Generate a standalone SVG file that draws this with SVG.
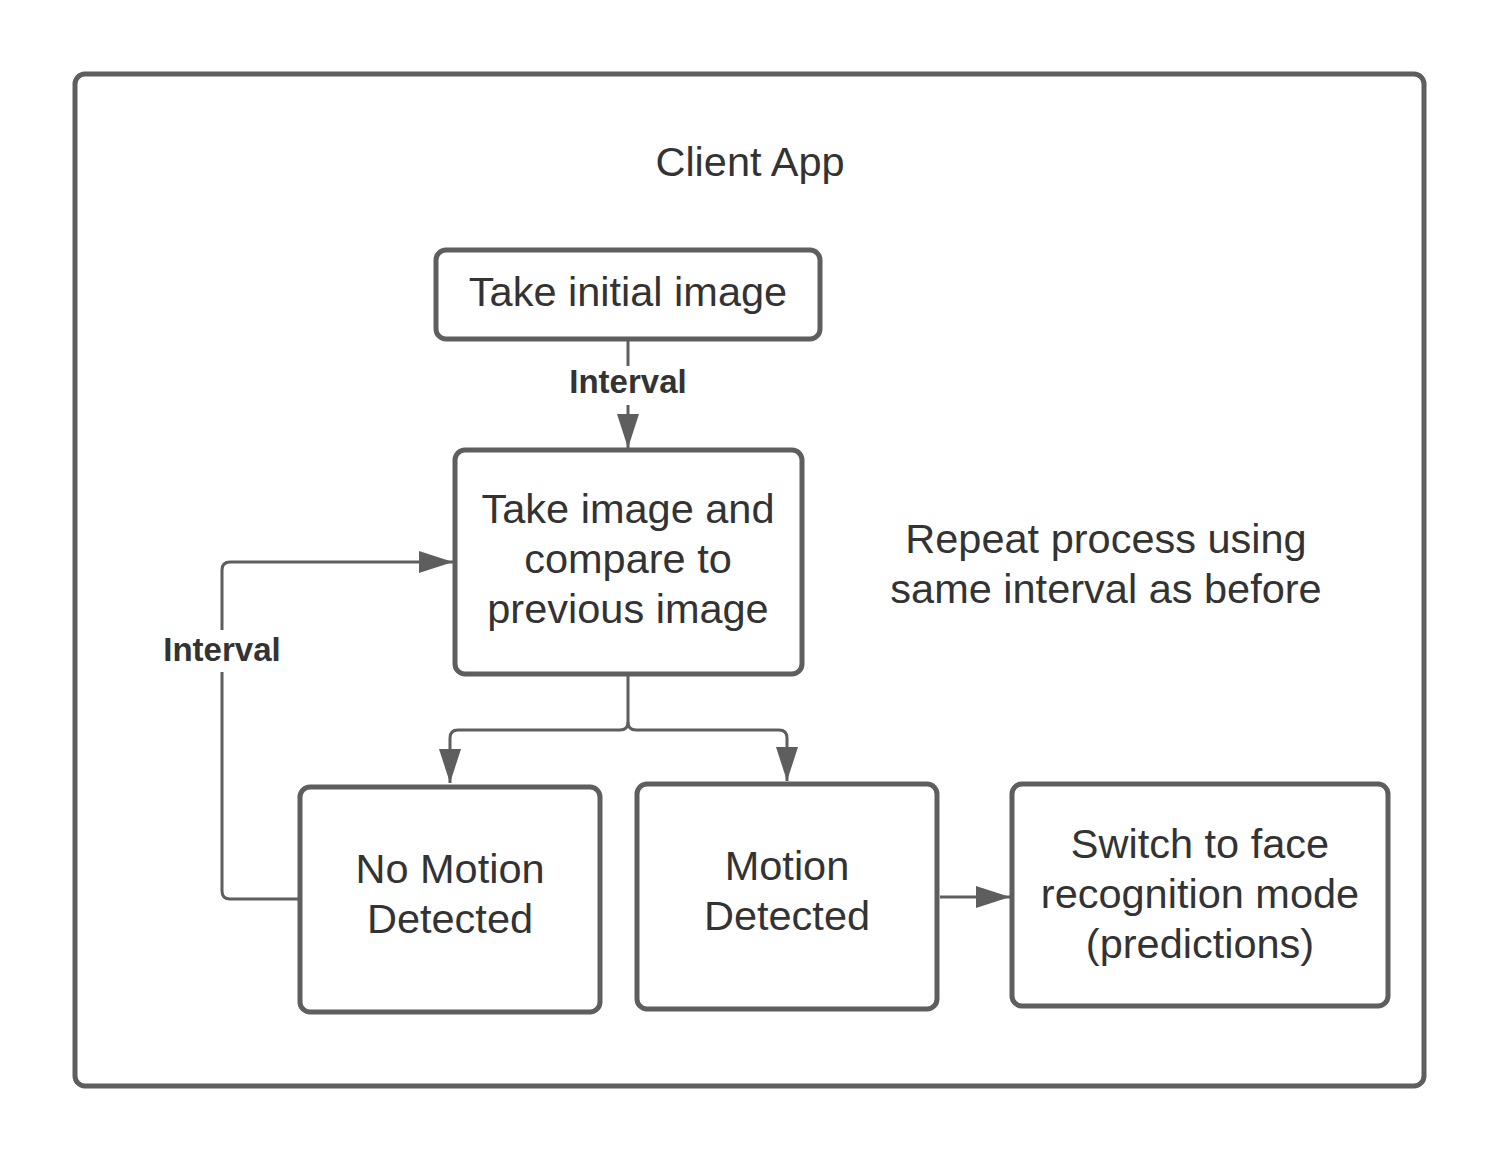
<svg xmlns="http://www.w3.org/2000/svg" width="1500" height="1163" viewBox="0 0 1500 1163">
<defs>
<style>
.box{fill:#fff;stroke:#5e5e5e;stroke-width:5}
.t{font-family:"Liberation Sans",Arial,sans-serif;font-size:41.5px;fill:#333;text-anchor:middle}
.lbl{font-family:"Liberation Sans",Arial,sans-serif;font-size:33px;font-weight:bold;fill:#333;text-anchor:middle}
.c{fill:none;stroke:#5e5e5e;stroke-width:3}
</style>
<marker id="a" viewBox="0 0 34 22" refX="34" refY="11" markerWidth="34" markerHeight="22" orient="auto" markerUnits="userSpaceOnUse">
<path d="M0,0 L34,11 L0,22 Z" fill="#5e5e5e"/>
</marker>
</defs>
<rect width="1500" height="1163" fill="#fff"/>
<g id="container">
<rect x="75" y="74" width="1349" height="1012" rx="10" class="box"/>
<text x="750" y="176" class="t">Client App</text>
</g>
<g id="connectors">
<path d="M628,341 V366" class="c"/>
<path d="M628,405 V448" class="c" marker-end="url(#a)"/>
<text x="628" y="393" class="lbl">Interval</text>
<path d="M298,899 H230 Q222,899 222,891 V570 Q222,562 230,562 H453" class="c" marker-end="url(#a)"/>
<rect x="150" y="630" width="140" height="42" fill="#fff"/>
<text x="222" y="661" class="lbl">Interval</text>
<path d="M628,676 V722 Q628,730 620,730 H458 Q450,730 450,738 V783" class="c" marker-end="url(#a)"/>
<path d="M628,722 Q628,730 636,730 H779 Q787,730 787,738 V781" class="c" marker-end="url(#a)"/>
<path d="M940,897 H1010" class="c" marker-end="url(#a)"/>
</g>
<g id="n1">
<rect x="436" y="250" width="384" height="89" rx="10" class="box"/>
<text x="628" y="306" class="t">Take initial image</text>
</g>
<g id="n2">
<rect x="455" y="450" width="347" height="224" rx="10" class="box"/>
<text x="628" y="523" class="t">Take image and</text>
<text x="628" y="573" class="t">compare to</text>
<text x="628" y="623" class="t">previous image</text>
</g>
<g id="n3">
<rect x="300" y="787" width="300" height="225" rx="10" class="box"/>
<text x="450" y="883" class="t">No Motion</text>
<text x="450" y="933" class="t">Detected</text>
</g>
<g id="n4">
<rect x="637" y="784" width="300" height="225" rx="10" class="box"/>
<text x="787" y="880" class="t">Motion</text>
<text x="787" y="930" class="t">Detected</text>
</g>
<g id="n5">
<rect x="1012" y="784" width="376" height="222" rx="10" class="box"/>
<text x="1200" y="858" class="t">Switch to face</text>
<text x="1200" y="908" class="t">recognition mode</text>
<text x="1200" y="958" class="t">(predictions)</text>
</g>
<g id="note">
<text x="1106" y="553" class="t">Repeat process using</text>
<text x="1106" y="603" class="t">same interval as before</text>
</g>
</svg>
